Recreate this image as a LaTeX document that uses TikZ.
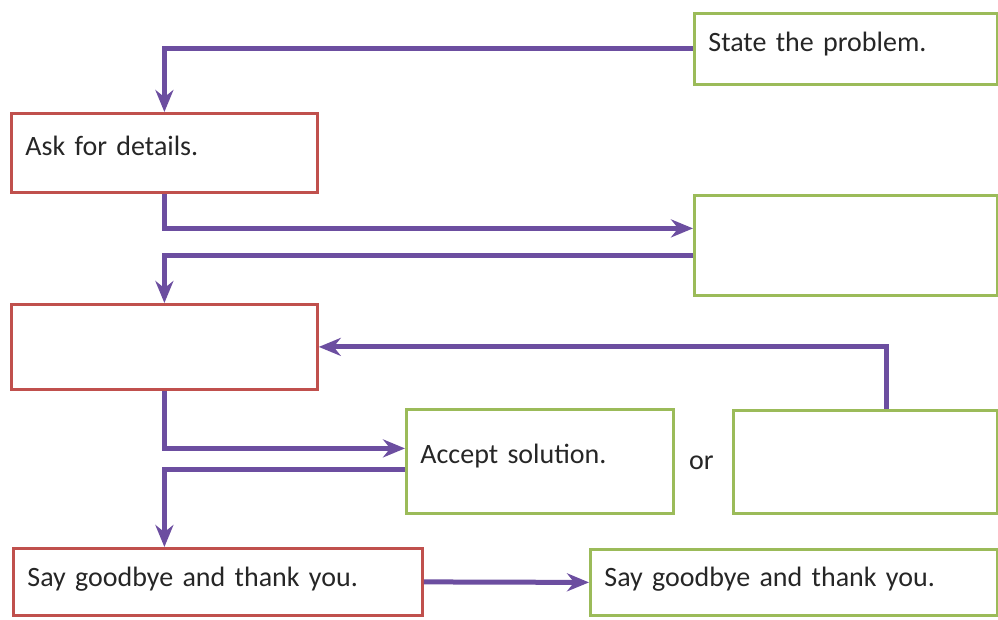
\documentclass[tikz,border=0pt]{standalone}
\usepackage{fontspec}
\setmainfont{Carlito}[WordSpace=0.85]
\usetikzlibrary{
  arrows.meta,
  positioning
}
\definecolor{flowpurple}{RGB}{108,78,160}
\definecolor{boxred}{RGB}{192,80,77}
\definecolor{boxgreen}{RGB}{155,187,89}

\tikzset{
  box/.style={draw, line width=2.8pt, anchor=north west, inner xsep=14pt,
    inner ysep=0pt, align=left, text=black!85,
    font=\fontsize{28}{34}\selectfont},
  redbox/.style={box, draw=boxred},
  greenbox/.style={box, draw=boxgreen},
  flow/.style={draw=flowpurple, line width=5pt}
}

\begin{document}
\begin{tikzpicture}[x=1pt, y=-1pt, >={Stealth[length=22pt,width=18pt]}]
  \useasboundingbox (0,0) rectangle (998,619);

  % Boxes on the left are red, boxes on the right are green.
  % The text sits near the top of each box, so text height and
  % text depth put the baseline where it should be.
  \node [greenbox, text width=275pt, text height=38pt, text depth=33pt]
    (state) at (693,12) {State the problem.};
  \node [redbox, text width=278pt, text height=42pt, text depth=37pt]
    (ask) at (10,112) {Ask for details.};
  \node [greenbox, minimum width=303pt, minimum height=100pt]
    (reply) at (693,194) {};
  \node [redbox, minimum width=306pt, minimum height=85pt]
    (offer) at (10,303) {};
  \node [greenbox, text width=239pt, text height=54pt, text depth=50pt]
    (accept) at (405,408) {Accept solution.};
  \node [greenbox, minimum width=264pt, minimum height=103pt]
    (reject) at (732,409) {};
  \node [redbox, text width=381pt, text height=38pt, text depth=29pt]
    (byeleft) at (12,547) {Say goodbye and thank you.};
  \node [greenbox, text width=379pt, text height=37pt, text depth=29pt]
    (byeright) at (589,548) {Say goodbye and thank you.};

  % The word between the two choices.
  \node [anchor=base west, inner sep=0pt, text=black!85,
    font=\fontsize{28}{34}\selectfont] (ortext) at (689,469) {or};

  % Connectors, all in purple.
  \draw [flow, ->] (state.west) -| (ask.north);
  \draw [flow, ->] (ask.south) |- ([yshift=17pt]reply.west);
  \draw [flow, ->] ([yshift=-10pt]reply.west) -| (offer.north);
  \draw [flow, ->] ([xshift=21pt]reject.north) |- (offer.east);
  \draw [flow, ->] (offer.south) |- ([yshift=13pt]accept.west);
  \draw [flow, ->] ([yshift=-8pt]accept.west) -| (offer.south |- byeleft.north);
  \draw [flow, ->] (byeleft.east) -- (byeright.west);
\end{tikzpicture}
\end{document}
